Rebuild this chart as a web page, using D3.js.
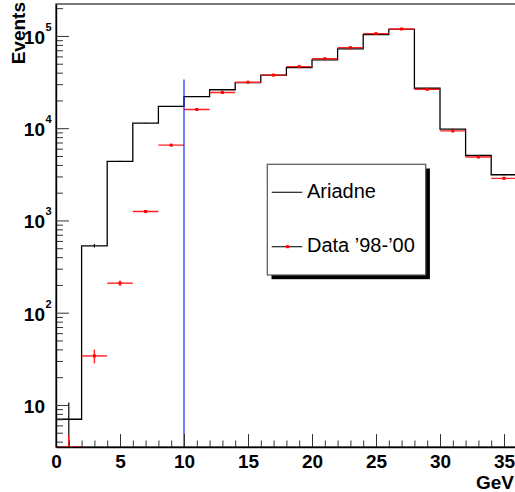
<!DOCTYPE html>
<html>
<head>
<meta charset="utf-8">
<script src="https://cdn.jsdelivr.net/npm/d3@7"></script>
<style>
  body { margin: 0; background: #fff; }
  svg { display: block; }
  text { font-family: "Liberation Sans", Arial, Helvetica, sans-serif; }
</style>
</head>
<body>
<div class="chart"></div>
<script>

// bin edges (GeV), 2 GeV wide bins
var binLow = [0, 2, 4, 6, 8, 10, 12, 14, 16, 18, 20, 22, 24, 26, 28, 30, 32, 34];
var binHigh = [2, 4, 6, 8, 10, 12, 14, 16, 18, 20, 22, 24, 26, 28, 30, 32, 34, 36];

// Ariadne MC histogram
var mcValues = [7, 531, 4360, 11330, 17200, 22000, 26100, 31200, 37500, 45400, 55000, 72300, 103300, 118000, 27100, 9770, 5060, 3130];
var mcErrors = [3.6, 23, 66, 106, 131, 148, 162, 177, 194, 213, 235, 269, 321, 344, 165, 99, 71, 56];

// Data '98-'00
var dataValues = [3, 34, 209, 1250, 6550, 15960, 24400, 31500, 37600, 46500, 56700, 74700, 106000, 119000, 26400, 9350, 4870, 2860];
var dataErrors = [1.73, 5.8, 14.5, 35, 81, 126, 156, 177, 194, 216, 238, 273, 326, 345, 162, 97, 70, 53];

// vertical cut line
var cutX = 10;
var cutTop = 33700;

// axis ticks
var xTickValues = [0, 5, 10, 15, 20, 25, 30, 35];
var yTickValues = [10, 100, 1000, 10000, 100000];
var yTickBase = ["10", "10", "10", "10", "10"];
var yTickExp = ["", "2", "3", "4", "5"];

var legendLabels = ["Ariadne", "Data \u201998-\u201900"];

var svgWidth = 515;
var svgHeight = 492;

var svg = d3.select(".chart")
  .append("svg")
  .attr("width", svgWidth)
  .attr("height", svgHeight);

// scales (frame runs from x=56 to just past the right edge of the picture)
var x = d3.scaleLinear().domain([0, 36]).range([56, 516.8]);
var y = d3.scaleLog().domain([3.5, 2.22e5]).range([447, 4]);

svg.append("defs").append("clipPath").attr("id", "plotclip")
  .append("rect")
  .attr("x", 56).attr("y", 4)
  .attr("width", 460.8).attr("height", 443);

// frame
svg.append("rect")
  .attr("x", 56).attr("y", 4)
  .attr("width", 460.8).attr("height", 443)
  .attr("fill", "none")
  .attr("stroke", "#222")
  .attr("stroke-width", 1.2);

var plot = svg.append("g").attr("clip-path", "url(#plotclip)");

// MC step line
var steps = [[x(0), y.range()[0]]];
mcValues.forEach(function(v, i) {
  steps.push([x(binLow[i]), y(v)]);
  steps.push([x(binHigh[i]), y(v)]);
});
steps.push([x(36), y.range()[0]]);

plot.append("path")
  .attr("d", d3.line()(steps))
  .attr("fill", "none")
  .attr("stroke", "#000")
  .attr("stroke-width", 1.3);

// MC error bars
plot.append("g").selectAll("line")
  .data(mcValues)
  .enter()
  .append("line")
  .attr("x1", (d, i) => x((binLow[i] + binHigh[i]) / 2))
  .attr("x2", (d, i) => x((binLow[i] + binHigh[i]) / 2))
  .attr("y1", (d, i) => y(Math.max(d - mcErrors[i], 0.01)))
  .attr("y2", (d, i) => y(d + mcErrors[i]))
  .attr("stroke", "#000")
  .attr("stroke-width", 1.2);

// data points with errors
var pts = plot.append("g").selectAll("g")
  .data(dataValues)
  .enter()
  .append("g");

pts.append("line")
  .attr("x1", (d, i) => x(binLow[i]))
  .attr("x2", (d, i) => x(binHigh[i]))
  .attr("y1", d => Math.min(y(d), y.range()[0]))
  .attr("y2", d => Math.min(y(d), y.range()[0]))
  .attr("stroke", "#ff2020")
  .attr("stroke-width", 1.4);

pts.append("line")
  .attr("x1", (d, i) => x((binLow[i] + binHigh[i]) / 2))
  .attr("x2", (d, i) => x((binLow[i] + binHigh[i]) / 2))
  .attr("y1", (d, i) => y(Math.max(d - dataErrors[i], 0.01)))
  .attr("y2", (d, i) => y(d + dataErrors[i]))
  .attr("stroke", "#ff2020")
  .attr("stroke-width", 1.4);

pts.append("rect")
  .attr("x", (d, i) => x((binLow[i] + binHigh[i]) / 2) - 1.5)
  .attr("y", d => y(d) - 1.5)
  .attr("width", 3)
  .attr("height", 3)
  .attr("fill", "red");

// cut line
svg.append("line")
  .attr("x1", x(cutX)).attr("x2", x(cutX))
  .attr("y1", y.range()[0]).attr("y2", y(cutTop))
  .attr("stroke", "#2020ff")
  .attr("stroke-width", 1.2);

// x axis, ticks pointing inward
var xMinor = d3.range(0, 37).filter(d => d % 5 != 0);

var xAxisMinor = d3.axisBottom(x).tickValues(xMinor).tickSize(-6.5).tickSizeOuter(0).tickFormat("");
var xAxis = d3.axisBottom(x).tickValues(xTickValues).tickSize(-13).tickSizeOuter(0).tickPadding(8);

var gxm = svg.append("g").attr("transform", "translate(0,447)").call(xAxisMinor);
var gx = svg.append("g").attr("transform", "translate(0,447)").call(xAxis);
gxm.select(".domain").remove();
gx.select(".domain").attr("stroke", "#000").attr("stroke-width", 1.4);
svg.selectAll(".tick line").attr("stroke", "#333");
gx.selectAll("text")
  .attr("font-size", 19)
  .attr("font-weight", "bold")
  .attr("fill", "#000")
  .attr("font-family", "Liberation Sans, Arial, sans-serif");

// y axis, ticks pointing inward
var yMinor = [];
[1, 10, 100, 1000, 10000, 100000].forEach(function(dec) {
  [2, 3, 4, 5, 6, 7, 8, 9].forEach(function(m) {
    var v = dec * m;
    if (v >= 3.5 && v <= 2.22e5) yMinor.push(v);
  });
});

var yAxisMinor = d3.axisLeft(y).tickValues(yMinor).tickSize(-7).tickSizeOuter(0).tickFormat("");
var yAxis = d3.axisLeft(y).tickValues(yTickValues).tickSize(-13).tickSizeOuter(0).tickFormat("");

var gym = svg.append("g").attr("transform", "translate(56,0)").call(yAxisMinor);
var gy = svg.append("g").attr("transform", "translate(56,0)").call(yAxis);
gym.select(".domain").remove();
gy.select(".domain").attr("stroke", "#000").attr("stroke-width", 1.4);
svg.selectAll(".tick line").attr("stroke", "#333");

// y tick labels: 10, 10^2 ...
var ylab = svg.append("g").selectAll("g")
  .data(yTickValues)
  .enter()
  .append("g");

ylab.append("text")
  .attr("x", 45)
  .attr("y", d => y(d) + 8)
  .attr("text-anchor", "end")
  .attr("font-size", 19)
  .attr("font-weight", "bold")
  .text((d, i) => yTickBase[i]);

ylab.append("text")
  .attr("x", 45.5)
  .attr("y", d => y(d) - 5)
  .attr("text-anchor", "start")
  .attr("font-size", 11)
  .attr("font-weight", "bold")
  .text((d, i) => yTickExp[i]);

// axis titles
svg.append("text")
  .attr("text-anchor", "end")
  .attr("transform", "translate(25,2)rotate(-90)")
  .attr("font-size", 19)
  .attr("font-weight", "bold")
  .text("Events");

svg.append("text")
  .attr("text-anchor", "end")
  .attr("x", 514)
  .attr("y", 489)
  .attr("font-size", 19)
  .attr("font-weight", "bold")
  .text("GeV");

// legend with shadow
var legend = svg.append("g");

legend.append("rect")
  .attr("x", 271.5).attr("y", 168.5)
  .attr("width", 158.4).attr("height", 110.7)
  .attr("fill", "#000");

legend.append("rect")
  .attr("x", 267.3).attr("y", 164.3)
  .attr("width", 158.4).attr("height", 110.7)
  .attr("fill", "#fff")
  .attr("stroke", "#555")
  .attr("stroke-width", 1.2);

var legendY = [192.3, 246.7];

legend.selectAll(".entry-line")
  .data(legendLabels)
  .enter()
  .append("line")
  .attr("x1", 271.7).attr("x2", 302.3)
  .attr("y1", (d, i) => legendY[i]).attr("y2", (d, i) => legendY[i])
  .attr("stroke", "#222")
  .attr("stroke-width", 1.2);

legend.append("rect")
  .attr("x", 286).attr("y", legendY[1] - 1.5)
  .attr("width", 3).attr("height", 3)
  .attr("fill", "red");

legend.selectAll(".entry-text")
  .data(legendLabels)
  .enter()
  .append("text")
  .attr("x", 307)
  .attr("y", (d, i) => legendY[i] + 5.5)
  .attr("font-size", 20)
  .text(d => d);

</script>
</body>
</html>
